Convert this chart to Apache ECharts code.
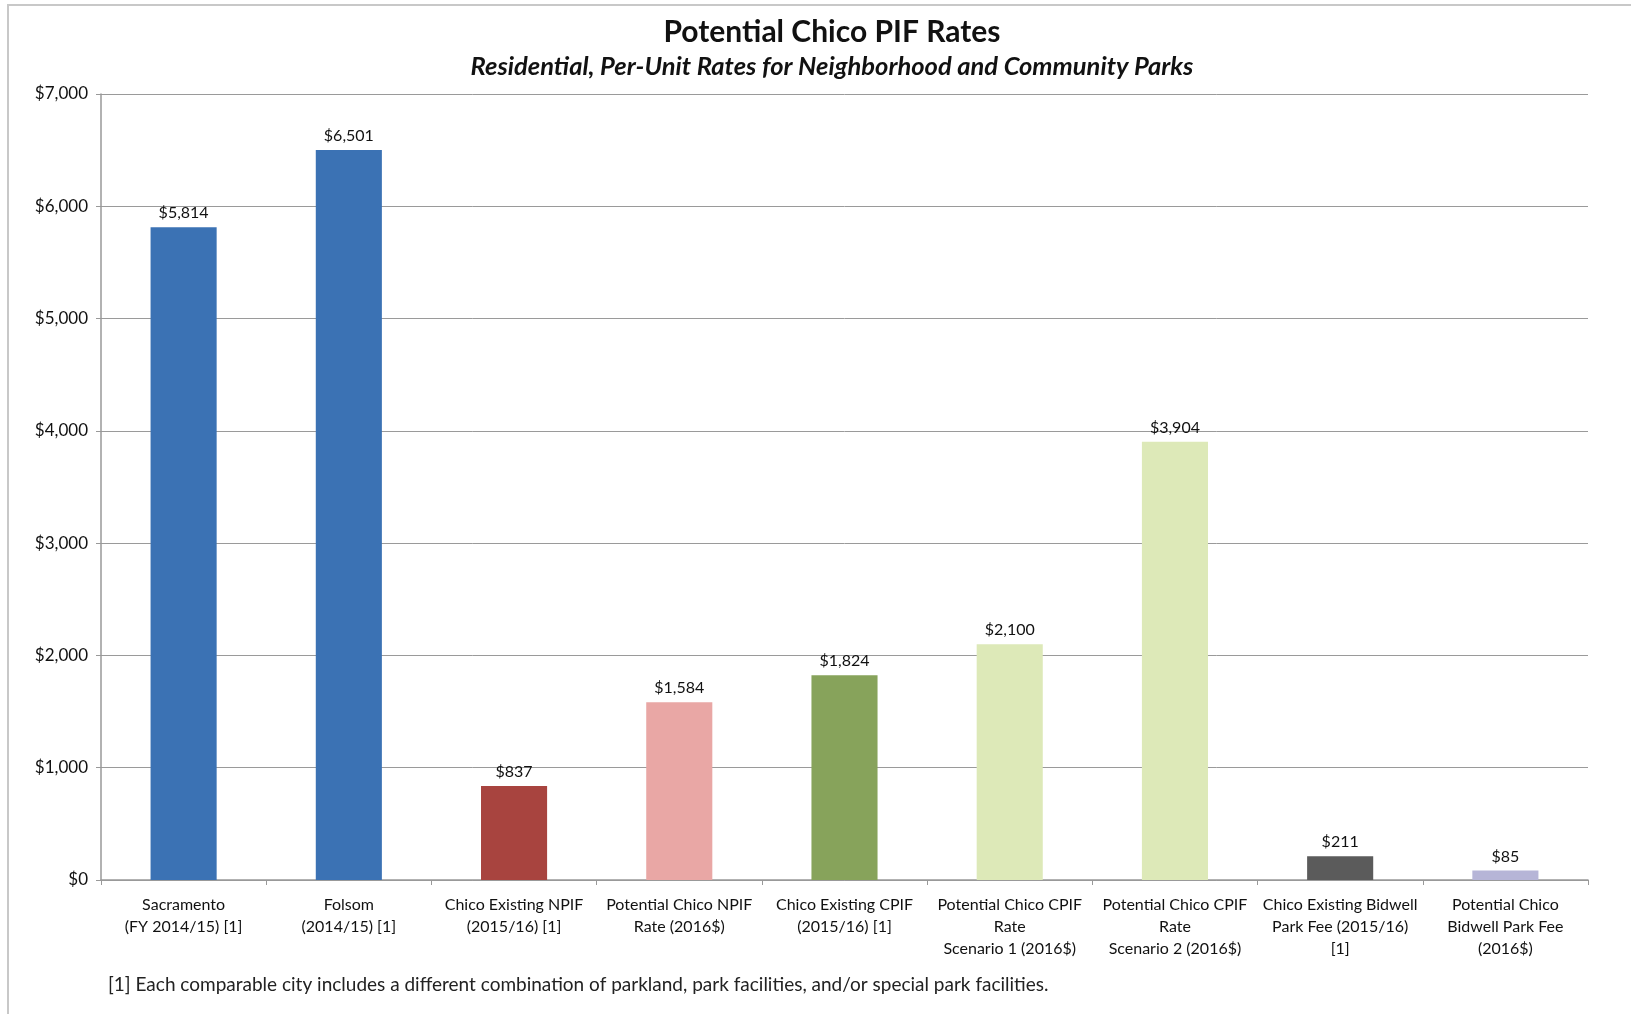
<!DOCTYPE html>
<html>
<head>
<meta charset="utf-8">
<script src="https://cdn.jsdelivr.net/npm/echarts@6/dist/echarts.min.js"></script>
<style>
  html, body { margin: 0; padding: 0; background: #fff; }
  #chart { width: 1631px; height: 1014px; }
</style>
</head>
<body>
<div id="chart"></div>
<script>
const categories = [
  'Sacramento\n(FY 2014/15) [1]',
  'Folsom\n(2014/15) [1]',
  'Chico Existing NPIF\n(2015/16) [1]',
  'Potential Chico NPIF\nRate (2016$)',
  'Chico Existing CPIF\n(2015/16) [1]',
  'Potential Chico CPIF\nRate\nScenario 1 (2016$)',
  'Potential Chico CPIF\nRate\nScenario 2 (2016$)',
  'Chico Existing Bidwell\nPark Fee (2015/16)\n[1]',
  'Potential Chico\nBidwell Park Fee\n(2016$)'
];
const rates = [5814, 6501, 837, 1584, 1824, 2100, 3904, 211, 85];
const barColors = ['#3b72b4', '#3b72b4', '#a8443f', '#e9a7a5', '#87a35b', '#dde9b8', '#dde9b8', '#5b5b5b', '#b6b5d7'];
const yTicks = [0, 1000, 2000, 3000, 4000, 5000, 6000, 7000];

const font = 'Lato, "Open Sans", sans-serif';
const chart = echarts.init(document.getElementById('chart'));

const money = v => '$' + v.toLocaleString('en-US');

chart.setOption({
  backgroundColor: '#fff',
  textStyle: { fontFamily: font },
  title: {
    text: 'Potential Chico PIF Rates',
    subtext: 'Residential, Per-Unit Rates for Neighborhood and Community Parks',
    left: 827,
    textAlign: 'center',
    top: 12,
    itemGap: 7,
    textStyle: { fontSize: 30, fontWeight: 'bold', color: '#111', fontFamily: font },
    subtextStyle: { fontSize: 25.5, fontWeight: 'bold', fontStyle: 'italic', color: '#111', fontFamily: font }
  },
  graphic: [
    {
      type: 'rect',
      shape: { x: 8, y: 5, width: 1640, height: 1030 },
      style: { fill: 'none', stroke: '#c8c8c8', lineWidth: 2 },
      silent: true
    },
    {
      type: 'text',
      left: 108,
      top: 975,
      style: {
        text: '[1] Each comparable city includes a different combination of parkland, park facilities, and/or special park facilities.',
        font: '19px ' + font,
        fill: '#222'
      }
    }
  ],
  grid: { left: 101, right: 43, top: 94, bottom: 134 },
  xAxis: {
    type: 'category',
    data: categories,
    axisLine: { lineStyle: { color: '#999', width: 1.5 } },
    axisTick: { show: true, alignWithLabel: false, length: 5, lineStyle: { color: '#999' } },
    axisLabel: { color: '#111', fontSize: 16, lineHeight: 22, margin: 14, interval: 0, fontFamily: font }
  },
  yAxis: {
    type: 'value',
    min: yTicks[0],
    max: yTicks[yTicks.length - 1],
    interval: 1000,
    axisLine: { show: true, lineStyle: { color: '#999', width: 1.5 } },
    axisTick: { show: true, length: 5, lineStyle: { color: '#999' } },
    axisLabel: { color: '#111', fontSize: 17, margin: 13, formatter: v => money(v), fontFamily: font },
    splitLine: { lineStyle: { color: '#9a9a9a', width: 1 } }
  },
  series: [{
    type: 'bar',
    data: rates.map((v, i) => ({ value: v, itemStyle: { color: barColors[i] } })),
    barCategoryGap: '60%',
    label: {
      show: true,
      position: 'top',
      distance: 6,
      color: '#111',
      fontSize: 16,
      fontFamily: font,
      formatter: p => money(p.value)
    }
  }]
});
</script>
</body>
</html>
